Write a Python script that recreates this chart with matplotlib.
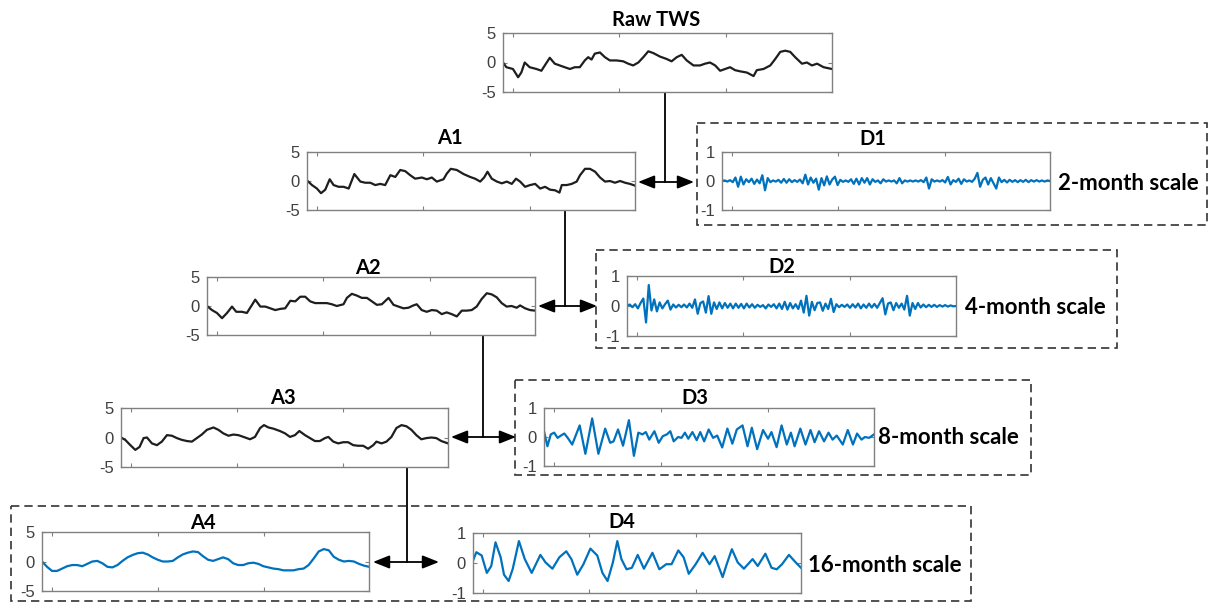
import matplotlib
matplotlib.use("Agg")
import numpy as np
import matplotlib.pyplot as plt
from matplotlib.patches import Rectangle, FancyArrowPatch

# ---- data (TWS anomaly, months since start of record) ----
raw_t = [0, 1.9, 5.6, 8.5, 10.3, 12.2, 15.0, 18.8, 21.6, 23.5, 26.3, 29.1, 31.9, 34.7, 37.6, 40.4,
         43.2, 46.0, 47.9, 49.8, 51.6, 54.5, 57.3, 60.1, 63.9, 67.6, 70.4, 73.2, 76.1, 78.9, 81.7,
         84.5, 88.3, 92.0, 94.8, 97.7, 100.5, 103.3, 107.1, 110.8, 113.6, 116.4, 119.3, 122.1,
         124.9, 127.7, 130.5, 133.4, 137.1, 140.9, 142.7, 146.5, 150.3, 153.1, 155.9, 158.7,
         161.5, 164.3, 168.1, 170.9, 173.7, 176.6, 180.3, 185]
raw_v = [0, -0.8, -1.1, -2.5, -1.7, 0, -0.8, -1.1, -1.4, -0.5, 0.8, -0.2, -0.5, -0.8, -1.1, -0.8,
         -0.8, 0.35, 0.9, 0.5, 1.5, 1.7, 0.9, 0.35, 0.35, 0.2, -0.2, -0.5, 0, 0.9, 1.9, 1.6, 1.0,
         0.6, 0.2, 0.9, 1.3, 0.35, -0.5, -0.5, -0.2, 0, -0.5, -1.4, -1.1, -0.8, -1.3, -1.5, -1.7,
         -2.3, -1.3, -1.1, -0.5, 0.6, 1.8, 2.0, 1.8, 0.9, -0.2, 0, -0.5, -0.2, -0.8, -1.1]

a1_t = [0, 2.8, 5.6, 7.9, 10.3, 12.8, 15.0, 17.8, 20.7, 23.5, 26.7, 30.1, 32.9, 35.7, 38.5, 41.3,
        44.1, 47.0, 49.8, 52.6, 55.4, 58.2, 61.0, 64.8, 67.6, 70.4, 73.2, 77.0, 78.9, 81.1, 84.5,
        88.3, 92.0, 94.8, 97.7, 99.9, 101.8, 104.2, 107.1, 109.9, 112.7, 115.5, 117.9, 120.2,
        123.0, 125.8, 128.7, 131.5, 134.3, 137.1, 139.9, 142.4, 143.7, 146.5, 149.3, 152.1,
        154.0, 156.8, 159.6, 162.5, 165.3, 168.1, 170.9, 173.7, 176.6, 179.4, 182.2, 185]
a1_v = [0.1, -0.7, -1.3, -2.1, -1.5, 0.3, -0.7, -1.0, -1.0, -1.3, 1.2, -0.1, -0.3, -0.3, -0.7,
        -0.5, -0.7, 1.0, 0.7, 1.9, 1.7, 1.0, 0.4, 0.6, 0.3, 0.6, -0.1, 0.3, 1.3, 2.1, 1.9, 1.2,
        0.7, 0.4, -0.1, 0.6, 1.6, 0.4, -0.1, -0.4, -0.1, -0.5, 0.4, -0.1, -1.0, -0.7, -0.5, -1.3,
        -1.0, -1.5, -1.6, -2.0, -0.7, -0.7, -0.5, -0.1, 1.0, 2.1, 2.1, 1.6, 0.6, -0.1, 0.0, -0.3,
        0.0, -0.3, -0.5, -0.8]

a2_t = [0, 2.8, 5.6, 8.5, 11.3, 14.1, 16.5, 19.7, 22.5, 25.4, 27.2, 30.1, 32.9, 35.7, 38.5, 41.3,
        44.1, 47.0, 49.8, 52.6, 55.4, 58.2, 61.0, 63.9, 67.6, 70.4, 73.2, 77.0, 78.9, 81.7, 84.5,
        87.3, 90.2, 93.0, 95.8, 98.6, 102.4, 105.2, 108.0, 110.8, 113.6, 116.4, 118.3, 121.1,
        123.9, 126.8, 129.6, 132.4, 135.2, 138.0, 140.9, 143.7, 146.5, 149.3, 152.1, 154.9,
        157.8, 160.6, 163.4, 166.2, 169.0, 171.8, 174.7, 176.6, 179.4, 182.2, 185.0]
a2_v = [0, -0.7, -1.2, -2.1, -1.2, -0.1, -1.0, -1.0, -1.2, 0.2, 1.1, -0.1, -0.1, -0.4, -0.7,
        -0.5, -0.4, 0.9, 0.8, 1.6, 1.6, 0.8, 0.5, 0.5, 0.5, 0.3, 0, 0.3, 1.4, 2.1, 1.8, 1.4, 1.4,
        0.8, 0.2, 0.3, 1.4, 0.2, -0.1, -0.4, -0.3, 0.1, 0.3, -0.7, -1.0, -0.7, -0.8, -1.4, -1.1,
        -1.4, -1.8, -0.8, -0.8, -0.7, -0.1, 1.2, 2.2, 2.0, 1.5, 0.5, -0.1, 0, -0.3, 0.1, -0.4,
        -0.7, -0.8]

a3_t = [0, 2.4, 5.3, 8.1, 10.5, 12.8, 14.7, 17.5, 20.3, 23.1, 26.0, 28.8, 31.6, 34.4, 37.3, 40.1,
        42.9, 45.7, 48.6, 52.3, 55.1, 57.9, 60.8, 63.6, 66.4, 69.3, 73.0, 75.8, 78.7, 80.9, 83.4,
        86.2, 89.9, 92.8, 95.6, 98.4, 100.9, 104.1, 106.9, 109.7, 112.5, 115.4, 117.3, 120.1,
        122.9, 125.7, 128.5, 131.4, 134.2, 137.0, 139.8, 142.7, 144.5, 147.4, 150.2, 153.0,
        155.8, 158.7, 161.5, 164.3, 167.1, 169.9, 172.8, 175.6, 178.4, 181.2, 185.0]
a3_v = [0, -0.4, -1.3, -2.1, -1.6, -0.1, 0, -1.0, -1.3, -0.7, 0.4, 0.3, -0.1, -0.4, -0.6, -0.7,
        -0.1, 0.5, 1.3, 1.7, 1.3, 0.7, 0.3, 0.5, 0.4, 0.1, -0.3, 0.1, 1.6, 2.1, 1.7, 1.5, 1.1, 0.7,
        0.1, 0.4, 1.1, 0.4, -0.1, -0.6, -0.6, -0.1, 0.1, -0.7, -1.0, -0.8, -0.8, -1.3, -1.4, -1.4,
        -1.9, -1.3, -0.7, -1.0, -0.7, 0.1, 1.6, 2.1, 1.9, 1.3, 0.4, -0.3, -0.1, 0, -0.1, -0.6, -1.0]

a4_v = [0, -0.9, -1.6, -1.6, -1.2, -0.8, -0.6, -0.6, -0.8, -0.4, 0, 0.1, -0.3, -0.9, -1.0, -0.6,
        0.1, 0.7, 1.1, 1.4, 1.5, 1.2, 0.7, 0.3, 0, 0, 0.1, 0.7, 1.2, 1.5, 1.7, 1.6, 0.9, 0.3, 0.1,
        0.4, 0.7, 0.4, -0.3, -0.6, -0.6, -0.3, -0.2, -0.4, -0.8, -1.0, -1.2, -1.3, -1.5, -1.5,
        -1.5, -1.3, -1.2, -0.6, 0.5, 1.7, 2.1, 1.9, 0.8, 0.3, 0, 0.1, 0, -0.4, -0.7, -0.9]

d1_v = [0.00, 0.02, -0.02, 0.03, -0.04, 0.12, -0.20, 0.15, -0.12, 0.06,
        -0.04, 0.08, -0.10, 0.05, -0.08, 0.20, -0.32, 0.10, -0.04, 0.02,
        -0.02, 0.04, -0.06, 0.07, -0.06, 0.06, -0.04, 0.03, -0.03, 0.05,
        -0.08, 0.22, -0.12, 0.12, -0.06, 0.08, -0.30, 0.10, -0.15, 0.16,
        -0.12, 0.05, 0.15, -0.14, 0.04, -0.03, 0.02, -0.03, 0.06, -0.10,
        0.08, -0.12, 0.10, -0.06, 0.10, -0.12, 0.06, -0.03, 0.02, -0.08,
        0.06, -0.02, 0.02, -0.02, 0.02, -0.08, 0.10, -0.08, 0.02, -0.02,
        0.02, -0.02, 0.02, -0.02, 0.03, -0.04, 0.12, -0.26, 0.06, -0.02,
        0.02, -0.02, 0.03, -0.05, 0.14, -0.12, 0.03, -0.03, 0.08, -0.10,
        0.06, -0.02, 0.02, -0.03, 0.08, 0.28, -0.20, 0.04, 0.12, -0.12,
        0.10, -0.08, -0.26, 0.12, -0.04, 0.04, -0.05, 0.04, -0.03, 0.03,
        -0.04, 0.03, -0.03, 0.04, -0.04, 0.03, -0.02, 0.03, -0.02, 0.02,
        -0.02, 0.02, 0.00]

d2_v = [0.00, 0.05, -0.04, 0.06, -0.08, 0.10, 0.25, -0.55, 0.70, -0.15,
        0.22, -0.18, 0.12, -0.08, 0.06, 0.18, -0.12, 0.05, -0.05, 0.04,
        -0.04, 0.05, -0.05, 0.08, -0.06, 0.22, -0.26, 0.10, 0.15, -0.22,
        0.33, -0.26, 0.12, -0.10, 0.12, -0.08, 0.10, -0.06, 0.08, -0.08,
        0.08, -0.06, 0.07, -0.08, 0.08, -0.05, 0.06, -0.06, 0.04, -0.03,
        0.03, -0.08, 0.05, -0.03, 0.06, -0.08, 0.08, -0.10, 0.14, -0.12,
        0.10, -0.08, 0.06, -0.10, 0.18, -0.22, 0.34, -0.32, 0.14, -0.14,
        0.10, 0.12, -0.16, 0.08, -0.10, 0.24, -0.20, 0.06, -0.04, 0.04,
        -0.03, 0.05, -0.06, 0.06, -0.05, 0.08, -0.08, 0.05, -0.06, 0.08,
        -0.05, 0.07, -0.06, 0.10, 0.26, -0.28, 0.08, 0.12, -0.14, 0.10,
        -0.06, 0.08, -0.12, 0.34, -0.32, 0.10, -0.10, 0.10, -0.05, 0.05,
        -0.04, 0.04, -0.03, 0.04, -0.03, 0.03, -0.02, 0.03, -0.02, 0.02,
        -0.01, 0.00]

d3_t = [0, 1.9, 3.8, 5.7, 7.6, 9.5, 11.4, 13.3, 15.8, 20.0, 23.2, 27.0, 30.5, 34.3, 37.1, 39.0,
        41.5, 44.3, 47.6, 50.4, 52.9, 55.2, 57.1, 59.0, 61.9, 64.3, 66.6, 68.9, 70.8, 72.7, 75.2,
        77.1, 79.0, 80.9, 83.2, 85.6, 87.6, 89.8, 92.3, 94.8, 97.1, 99.9, 102.8, 105.6, 108.1,
        111.3, 114.1, 116.5, 119.5, 122.8, 125.6, 127.5, 130.4, 133.2, 136.1, 138.4, 140.5,
        143.7, 146.6, 149.4, 151.7, 154.2, 157.0, 159.5, 161.8, 164.1, 167.5, 170.3, 173.2,
        175.5, 178.0, 179.9, 182.3, 185]
d3_v = [0.2, -0.32, 0.09, 0.15, -0.03, 0.05, 0.12, -0.03, -0.26, 0.4, -0.58, 0.64, -0.58, 0.29,
        -0.2, -0.15, 0.26, -0.3, 0.58, -0.65, 0.15, 0.09, 0.17, -0.09, 0.2, -0.2, 0.03, 0.09, 0.2,
        -0.15, 0, -0.03, 0.15, -0.06, 0.17, -0.11, 0.17, -0.15, 0.26, -0.03, 0.05, -0.36, 0.29,
        -0.23, 0.26, 0.4, -0.32, 0.32, -0.42, 0.24, -0.06, 0.17, -0.35, 0.4, -0.26, 0.15, -0.32,
        0.29, -0.26, 0.24, -0.18, 0.2, -0.15, 0.15, -0.09, 0.05, -0.26, 0.24, -0.26, 0.12, -0.09,
        0, -0.03, 0.09]

d4_t = [0, 1.9, 4.9, 7.8, 10.3, 12.7, 15.6, 17.5, 20.1, 22.4, 25.9, 29.2, 33.1, 38.0, 40.9, 44.8,
        48.7, 52.6, 55.5, 58.8, 62.3, 66.2, 70.1, 73.0, 75.9, 78.9, 81.4, 83.7, 86.6, 89.6, 92.9,
        96.4, 101.2, 105.1, 109.0, 112.0, 115.8, 118.8, 121.7, 125.6, 129.5, 133.4, 136.3, 140.8,
        143.1, 146.0, 149.3, 152.8, 157.7, 160.6, 164.9, 168.4, 171.3, 174.3, 178.2, 182.0, 185]
d4_v = [0.08, 0.36, 0.25, -0.33, -0.1, 0.69, 0.19, -0.39, -0.6, -0.2, 0.73, 0.13, -0.33, 0.27,
        0.02, -0.19, 0.19, 0.39, 0.13, -0.39, -0.04, 0.48, 0.25, -0.33, -0.6, 0.02, 0.73, 0.13,
        -0.21, -0.16, 0.27, -0.19, 0.34, -0.21, -0.04, -0.04, 0.42, 0.19, -0.36, -0.04, 0.34,
        -0.04, 0.23, -0.47, -0.04, 0.46, 0.02, -0.19, 0.13, -0.1, 0.31, -0.16, -0.21, -0.04,
        0.27, 0.02, -0.16]

n_months = 185
x_ticks = [5.5, 65.5, 125.5]

BLACK = '#1e1e1e'
BLUE = '#0072BD'
W, H = 1210, 603

fig = plt.figure(figsize=(W / 100, H / 100), dpi=100)


def px_rect(l, t, r, b):
    return [l / W, 1 - b / H, (r - l) / W, (b - t) / H]


def panel(box, t, v, color, lim, title, title_xy):
    ax = fig.add_axes(px_rect(*box))
    ax.plot(t, v, color=color, lw=1.6, solid_joinstyle='round')
    ax.set_xlim(0, n_months)
    ax.set_ylim(-lim, lim)
    ax.set_yticks([-lim, 0, lim])
    ax.set_yticklabels([f'{-lim}', '0', f'{lim}'], fontfamily='Liberation Sans',
                       fontsize=12, color='#404040')
    ax.set_xticks(x_ticks)
    ax.set_xticklabels([])
    ax.tick_params(direction='in', length=3, width=0.8, color='#808080',
                   top=True, right=True, pad=5)
    for s in ax.spines.values():
        s.set_color('#808080')
        s.set_linewidth(1.0)
    fig.text(title_xy[0] / W, 1 - title_xy[1] / H, title, ha='center', va='center',
             fontfamily='Lato', fontweight='bold', fontsize=14.5)
    return ax


# approximations (left column)
panel((503, 33, 832, 92), raw_t, raw_v, BLACK, 5, 'Raw TWS', (656, 20))
panel((307, 152, 635, 210), a1_t, a1_v, BLACK, 5, 'A1', (450, 138))
panel((207, 277, 535, 335), a2_t, a2_v, BLACK, 5, 'A2', (368, 268))
panel((121, 408, 448, 467), a3_t, a3_v, BLACK, 5, 'A3', (283, 398))
panel((42, 532, 369, 591), np.linspace(0, n_months, len(a4_v)), a4_v, BLUE, 5, 'A4', (203, 523))

# details (right column)
panel((722, 152, 1050, 210), np.linspace(0, n_months, len(d1_v)), d1_v, BLUE, 1, 'D1', (873, 139))
panel((627, 276, 956, 336), np.linspace(0, n_months, len(d2_v)), d2_v, BLUE, 1, 'D2', (782, 267))
panel((544, 408, 874, 466), d3_t, d3_v, BLUE, 1, 'D3', (695, 398))
panel((473, 533, 801, 593), d4_t, d4_v, BLUE, 1, 'D4', (622, 522))

scale_labels = ['2-month scale', '4-month scale', '8-month scale', '16-month scale']
label_pos = [(1058, 183), (965, 308), (878, 438), (808, 566)]
for txt, (x, y) in zip(scale_labels, label_pos):
    fig.text(x / W, 1 - y / H, txt, ha='left', va='center',
             fontfamily='Lato', fontweight='bold', fontsize=16)

# overlay for the decomposition tree (pixel space)
ov = fig.add_axes([0, 0, 1, 1], zorder=-1)
ov.set_xlim(0, W)
ov.set_ylim(H, 0)
ov.axis('off')

boxes = [(697, 123, 1207, 225), (596, 250, 1117, 348), (515, 380, 1031, 475), (11, 506, 971, 601)]
for l, t, r, b in boxes:
    ov.add_patch(Rectangle((l, t), r - l, b - t, fill=False, ec='#333333', lw=1.2,
                           ls=(0, (5, 3))))

drops = [(665, 92, 182), (565, 210, 306), (483, 335, 437), (407, 467, 562)]
for x, y0, y1 in drops:
    ov.plot([x, x], [y0, y1], color='black', lw=1.3)

arrows = [(638, 694, 182), (538, 597, 306), (451, 516, 437), (373, 439, 562)]
for x0, x1, y in arrows:
    ov.add_patch(FancyArrowPatch((x0, y), (x1, y), arrowstyle='<|-|>,head_length=1.0,head_width=0.4',
                                 mutation_scale=10, color='black', lw=1.3,
                                 shrinkA=0, shrinkB=0))

fig.savefig('out.png', dpi=100)
